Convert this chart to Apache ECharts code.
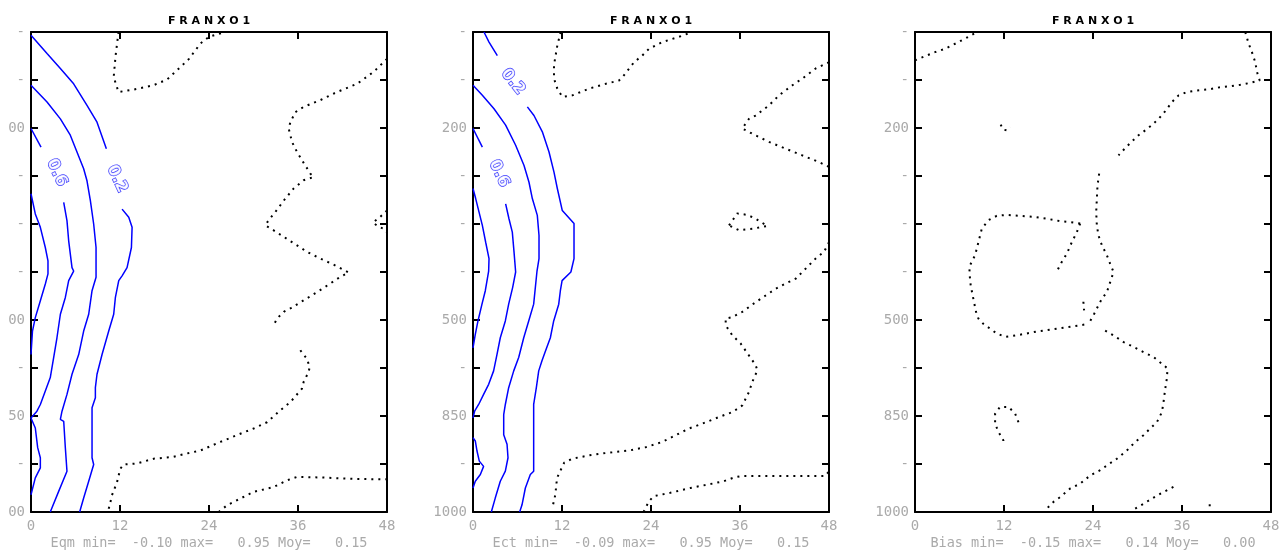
<!DOCTYPE html>
<html><head><meta charset="utf-8">
<script src="https://cdn.jsdelivr.net/npm/echarts@6.0.0/dist/echarts.min.js"></script>
<style>html,body{margin:0;padding:0;background:#fff;}#c{width:1286px;height:550px;clip-path:inset(0 0 0 8px);}</style>
</head><body><div id="c"></div>
<script>
// ---------- data (x = forecast hour, y = level index 0..10) ----------
const panelTitle = 'F R A N X O 1';
const levelLabels = ['-', '-', '200', '-', '-', '-', '500', '-', '850', '-', '1000'];
const statNames = ['Eqm', 'Ect', 'Bias'];
const statMin = [-0.10, -0.09, -0.15];
const statMax = [0.95, 0.95, 0.14];
const statMoy = [0.15, 0.15, 0.00];

// Panel 1 : Eqm - blue contours
const eqmA = [[0,3.37],[0.58,3.79],[1.26,4.07],[1.93,4.49],[2.29,4.77],[2.29,5.04],[1.93,5.25],[1.26,5.6],[0.58,5.95],[0.2,6.23],[0,6.72]];
const eqmB1 = [[0,2.01],[1.35,2.4]];
const eqmB2 = [[4.41,3.55],[4.85,3.93],[5.08,4.35],[5.53,4.91],[5.75,4.98],[5.08,5.18],[4.63,5.53],[3.96,5.88],[3.5,6.37],[3.06,6.78],[2.6,7.2],[1.93,7.48],[1.26,7.76],[0.8,7.9],[0,8.04],[0.58,8.25],[0.9,8.66],[1.26,8.87],[1.26,9.08],[0.58,9.29],[0,9.64]];
const eqmC = [[0,1.11],[2.16,1.46],[3.96,1.81],[5.3,2.15],[6.2,2.5],[7.1,2.85],[7.55,3.1],[8.0,3.51],[8.45,4.0],[8.77,4.49],[8.77,5.11],[8.23,5.39],[7.78,5.88],[7.1,6.23],[6.43,6.72],[5.53,7.13],[4.85,7.55],[4.18,7.9],[3.96,8.07],[4.41,8.11],[4.63,8.66],[4.85,9.15],[3.73,9.57],[2.6,10]];
const eqmD1 = [[0,0.07],[2.16,0.45],[3.96,0.76],[5.75,1.08],[7.55,1.53],[8.9,1.88],[10.16,2.43]];
const eqmD2 = [[12.28,3.69],[13.18,3.86],[13.63,4.07],[13.54,4.49],[12.95,4.91],[12.28,5.08],[11.83,5.18],[11.38,5.53],[11.15,5.88],[10.48,6.23],[9.58,6.72],[8.9,7.13],[8.68,7.41],[8.68,7.62],[8.23,7.83],[8.23,8.87],[8.45,9.01],[7.78,9.36],[7.1,9.71],[6.56,10]];
// Panel 1 : Eqm - dotted zero contours
const eqmZ1 = [[11.8,0],[11.4,0.5],[11.15,0.94],[11.8,1.25],[13.85,1.2],[16.5,1.11],[18.35,0.99],[20.15,0.73],[21.3,0.56],[22.85,0.24],[24,0.1],[26.2,0]];
const eqmZ2 = [[48,0.56],[46.2,0.83],[43.96,1.08],[41.26,1.25],[39.0,1.42],[36.76,1.56],[35.64,1.67],[34.97,1.88],[34.74,2.01],[35.19,2.29],[35.87,2.5],[36.54,2.67],[37.66,2.95],[38.11,3.02],[36.76,3.09],[35.42,3.26],[34.29,3.47],[32.94,3.75],[32.04,3.92],[31.6,4.03],[32.49,4.11],[34.52,4.31],[37.21,4.58],[39.0,4.72],[40.58,4.83],[42.83,5.01],[41.71,5.1],[40.36,5.24],[38.56,5.42],[36.76,5.59],[34.97,5.76],[34.07,5.83],[33.17,5.97],[32.81,6.08]];
const eqmZ3 = [[36.31,6.63],[37.21,6.81],[37.57,6.98],[37.44,7.08],[36.76,7.29],[36.54,7.43],[34.97,7.71],[33.62,7.88],[31.82,8.13],[30.02,8.26],[28.22,8.37],[25.53,8.54],[22.83,8.72],[21.03,8.78],[19.24,8.85],[16.54,8.89],[14.29,8.99],[12.49,9.01],[12.04,9.1],[11.6,9.38],[10.92,9.65],[10.61,9.86],[10.34,10]];
const eqmZ4 = [[25.3,10],[26.43,9.86],[28.22,9.72],[30.02,9.58],[32.72,9.48],[34.52,9.34],[35.87,9.27],[39.0,9.28],[43.5,9.31],[48,9.32]];
const eqmZ5 = [[48,3.72],[47.1,3.85],[46.1,3.97],[46.9,4.06],[47.6,4.1],[48,4.17]];
const eqmLabelText = ['0.6', '0.2'];
const eqmLabelPos = [[3.46,2.93],[11.6,3.06]];

// Panel 2 : Ect - blue contours
const ectA = [[0,3.26],[0.36,3.47],[1.26,4.03],[1.71,4.38],[2.16,4.72],[2.11,4.98],[1.66,5.39],[1.21,5.67],[0.67,6.02],[0.31,6.3],[0,6.58]];
const ectB1 = [[0,2.01],[1.26,2.4]];
const ectB2 = [[4.4,3.58],[4.85,3.89],[5.3,4.17],[5.53,4.58],[5.75,5.0],[5.35,5.32],[4.81,5.67],[4.36,6.02],[3.68,6.37],[3.23,6.72],[2.78,7.06],[2.11,7.34],[1.43,7.55],[0.76,7.76],[0.22,7.9],[0,8.04]];
const ectB3 = [[0,8.45],[0.31,8.52],[0.54,8.73],[0.85,8.94],[1.43,9.05],[0.99,9.22],[0.31,9.36],[0,9.5]];
const ectC = [[0,1.11],[1.26,1.32],[2.83,1.6],[4.4,1.94],[5.75,2.36],[6.88,2.78],[7.55,3.13],[8.0,3.47],[8.67,3.82],[8.9,4.24],[8.9,4.72],[8.63,4.98],[8.18,5.67],[7.51,6.02],[6.84,6.37],[6.16,6.78],[5.49,7.06],[4.81,7.41],[4.36,7.76],[4.14,7.97],[4.14,8.39],[4.59,8.59],[4.72,8.87],[4.36,9.15],[3.68,9.36],[3.0,9.71],[2.47,10]];
const ectD1 = [[1.48,0],[2.16,0.21],[3.28,0.49]];
const ectD2 = [[7.33,1.56],[8.22,1.74],[9.35,2.08],[10.25,2.5],[10.92,2.92],[11.37,3.26],[12.04,3.72],[13.62,3.99],[13.62,4.72],[13.2,5.0],[12.01,5.18],[11.78,5.39],[11.56,5.67],[10.88,6.02],[10.43,6.37],[9.76,6.65],[9.3,6.85],[8.86,7.06],[8.54,7.41],[8.18,7.76],[8.18,9.15],[7.73,9.22],[7.06,9.5],[6.61,9.85],[6.29,10]];
// Panel 2 : Ect - dotted zero contours
const ectZ1 = [[11.82,0],[11.37,0.28],[10.92,0.69],[10.92,0.97],[11.37,1.18],[12.04,1.35],[13.39,1.32],[15.64,1.18],[17.89,1.08],[19.69,1.01],[20.36,0.9],[21.71,0.63],[22.83,0.49],[23.73,0.35],[25.53,0.21],[27.78,0.1],[29.57,0]];
const ectZ2 = [[48,0.63],[46.2,0.76],[44.4,0.97],[43.06,1.11],[41.26,1.32],[39.9,1.53],[38.1,1.74],[37.21,1.81],[36.31,2.01],[37.66,2.12],[39.91,2.29],[42.16,2.43],[44.4,2.57],[46.65,2.71],[48,2.81]];
const ectZ3 = [[34.52,4.03],[35.64,3.78],[36.99,3.81],[38.11,3.89],[39.69,4.04],[37.66,4.1],[35.87,4.13],[34.52,4.03]];
const ectZ4 = [[48,4.38],[47.33,4.58],[46.2,4.72],[45.3,4.86],[43.51,5.14],[42.16,5.24],[40.81,5.35],[39.46,5.49],[38.11,5.63],[36.31,5.83],[34.97,5.94],[34.07,5.97],[34.07,6.11],[34.97,6.32],[36.09,6.49],[37.21,6.74],[38.11,6.94],[38.34,7.05],[37.66,7.29],[37.21,7.5],[36.31,7.78],[34.97,7.92],[33.17,8.02],[30.92,8.16],[29.12,8.26],[27.33,8.4],[25.53,8.54],[23.28,8.65],[21.03,8.72],[19.24,8.75],[17.44,8.78],[15.64,8.82],[13.39,8.89],[12.3,8.97],[11.33,9.29],[11.1,9.64],[10.79,9.85]];
const ectZ5 = [[23.0,10],[23.7,9.78],[24.37,9.67],[26.6,9.6],[29.3,9.5],[31.6,9.43],[33.8,9.36],[35.2,9.28],[36.3,9.25],[43.7,9.25],[47.5,9.25],[48,9.15]];
const ectLabelText = ['0.2', '0.6'];
const ectLabelPos = [[5.37,1.04],[3.5,2.95]];

// Panel 3 : Bias - dotted zero contours
const biasZ1 = [[0,0.59],[1.57,0.49],[2.7,0.42],[4.05,0.35],[5.85,0.21],[7.2,0.1],[8.32,0]];
const biasZ2 = [[44.53,0],[44.98,0.24],[45.43,0.42],[45.88,0.63],[46.11,0.83],[46.47,1.01],[45.21,1.06],[43.86,1.1],[42.51,1.13],[41.16,1.15],[39.81,1.19],[38.01,1.22],[36.66,1.25],[35.54,1.32],[34.64,1.46],[33.74,1.65],[32.84,1.81],[31.94,1.94],[31.04,2.05],[30.14,2.15],[29.24,2.28],[28.34,2.42],[27.44,2.57]];
const biasZ3 = [[24.83,2.95],[24.61,3.19],[24.52,3.47],[24.43,3.75],[24.52,4.03],[24.74,4.24],[25.19,4.44],[25.87,4.65],[26.32,4.83],[26.77,5.0],[26.32,5.21],[25.87,5.42],[25.19,5.56],[24.52,5.76],[24.07,5.9],[23.39,6.08]];
const biasZ4 = [[22.27,3.99],[20.92,3.96],[19.57,3.94],[17.77,3.89],[15.97,3.85],[14.17,3.83],[12.37,3.81],[11.02,3.83],[9.9,3.92],[9.0,4.1],[8.55,4.38],[8.1,4.65],[7.42,4.86],[7.33,5.0],[7.51,5.28],[7.87,5.56],[8.23,5.83],[8.55,5.97],[9.22,6.08],[10.12,6.18],[11.02,6.28],[12.15,6.35],[13.72,6.32],[15.07,6.28],[16.42,6.24],[18.67,6.19],[20.47,6.15],[22.27,6.11],[23.39,6.08]];
const biasZ5 = [[22.27,3.99],[21.82,4.17],[21.14,4.38],[20.47,4.62],[19.79,4.79],[19.12,4.99]];
const biasZ6 = [[22.7,5.62],[22.8,5.8]];
const biasZ7 = [[25.64,6.22],[26.77,6.32],[28.12,6.46],[29.46,6.56],[30.81,6.67],[32.16,6.77],[33.51,6.94],[34.05,7.01],[33.96,7.22],[33.74,7.43],[33.51,7.71],[33.29,7.92],[32.61,8.13],[31.71,8.26],[30.81,8.4],[29.69,8.54],[28.56,8.72],[27.22,8.89],[25.87,9.03],[24.97,9.13],[23.62,9.24],[22.27,9.41],[20.92,9.51],[19.57,9.69],[18.67,9.79],[17.77,9.93]];
const biasZ8 = [[29.69,9.93],[30.81,9.83],[31.94,9.72],[33.06,9.62],[34.19,9.53],[35.4,9.43]];
const biasZ9 = [[39.6,9.86],[40.26,9.86]];
const biasZ10 = [[11.56,1.93],[11.83,2.03],[12.37,2.05],[12.82,1.98]];
const biasZ11 = [[13.95,8.13],[13.5,7.95],[12.6,7.81],[11.47,7.81],[10.8,7.95],[10.8,8.16],[11.25,8.33],[11.92,8.51],[12.15,8.44]];

// ---------- layout / styles ----------
const panels = [
  { blue: [eqmA, eqmB1, eqmB2, eqmC, eqmD1, eqmD2], zero: [eqmZ1, eqmZ2, eqmZ3, eqmZ4, eqmZ5], labText: eqmLabelText, labPos: eqmLabelPos, labRot: [-65, -65] },
  { blue: [ectA, ectB1, ectB2, ectB3, ectC, ectD1, ectD2], zero: [ectZ1, ectZ2, ectZ3, ectZ4, ectZ5], labText: ectLabelText, labPos: ectLabelPos, labRot: [-52, -65] },
  { blue: [], zero: [biasZ1, biasZ2, biasZ3, biasZ4, biasZ5, biasZ6, biasZ7, biasZ8, biasZ9, biasZ10, biasZ11], labText: [], labPos: [], labRot: [] }
];
const gridLefts = [31, 473, 915];
const GRAY = '#aaaaaa';
const MONO = 'DejaVu Sans Mono';

function fmt(v) { return (v < 0 ? '' : ' ') + v.toFixed(2); }

const grids = [], xAxes = [], yAxes = [], series = [];
panels.forEach((p, i) => {
  grids.push({ left: gridLefts[i], top: 32, width: 356, height: 480, outerBoundsMode: 'none', containLabel: false });
  const axLine = { show: true, onZero: false, lineStyle: { color: '#000', width: 2 } };
  const axTick = { show: true, inside: true, length: 7, lineStyle: { color: '#000', width: 2 } };
  const sub = statNames[i] + ' min=  ' + fmt(statMin[i]) + ' max=  ' + fmt(statMax[i]) + ' Moy=  ' + fmt(statMoy[i]);
  xAxes.push({
    type: 'value', gridIndex: i, min: 0, max: 48, interval: 12, position: 'bottom',
    axisLine: axLine, axisTick: axTick, splitLine: { show: false },
    axisLabel: { color: GRAY, fontFamily: MONO, fontSize: 14, margin: 7, showMinLabel: true, showMaxLabel: true, hideOverlap: false },
    name: sub, nameLocation: 'middle', nameGap: 24, nameMoveOverlap: false,
    nameTextStyle: { color: GRAY, fontFamily: MONO, fontSize: 13.5 }
  });
  xAxes.push({
    type: 'value', gridIndex: i, min: 0, max: 48, interval: 12, position: 'top',
    axisLine: axLine, axisTick: axTick, splitLine: { show: false }, axisLabel: { show: false },
    name: panelTitle, nameLocation: 'middle', nameGap: 5, nameMoveOverlap: false,
    nameTextStyle: { color: '#000', fontFamily: 'DejaVu Sans', fontSize: 11, fontWeight: 'bold' }
  });
  yAxes.push({
    type: 'value', gridIndex: i, min: 0, max: 10, interval: 1, inverse: true, position: 'left',
    axisLine: axLine, axisTick: axTick, splitLine: { show: false },
    axisLabel: { color: GRAY, fontFamily: MONO, fontSize: 14, margin: 6, showMinLabel: true, showMaxLabel: true, hideOverlap: false,
      formatter: v => levelLabels[Math.round(v)] }
  });
  yAxes.push({
    type: 'value', gridIndex: i, min: 0, max: 10, interval: 1, inverse: true, position: 'right',
    axisLine: axLine, axisTick: axTick, splitLine: { show: false }, axisLabel: { show: false }
  });
  p.blue.forEach(arr => series.push({
    type: 'line', xAxisIndex: 2 * i, yAxisIndex: 2 * i, data: arr, symbol: 'none', silent: true,
    lineStyle: { color: '#0000ff', width: 1.5 }, animation: false
  }));
  p.zero.forEach(arr => series.push({
    type: 'line', xAxisIndex: 2 * i, yAxisIndex: 2 * i, data: arr, symbol: 'none', silent: true,
    lineStyle: { color: '#000', width: 2, type: [2, 5], cap: 'butt' }, animation: false
  }));
  if (p.labText.length) {
    series.push({
      type: 'scatter', xAxisIndex: 2 * i, yAxisIndex: 2 * i, symbolSize: 0, silent: true, animation: false,
      data: p.labText.map((t, k) => ({ name: t, value: p.labPos[k], label: { rotate: p.labRot[k] } })),
      label: { show: true, position: 'inside', formatter: '{b}', color: '#ffffff', fontSize: 16, fontWeight: 'bold',
        fontFamily: 'DejaVu Sans', textBorderColor: '#0000ff', textBorderWidth: 1.3 }
    });
  }
});

const chart = echarts.init(document.getElementById('c'), null, { renderer: 'canvas' });
chart.setOption({
  animation: false,
  backgroundColor: '#fff',
  grid: grids, xAxis: xAxes, yAxis: yAxes, series: series
});
</script>
</body></html>
